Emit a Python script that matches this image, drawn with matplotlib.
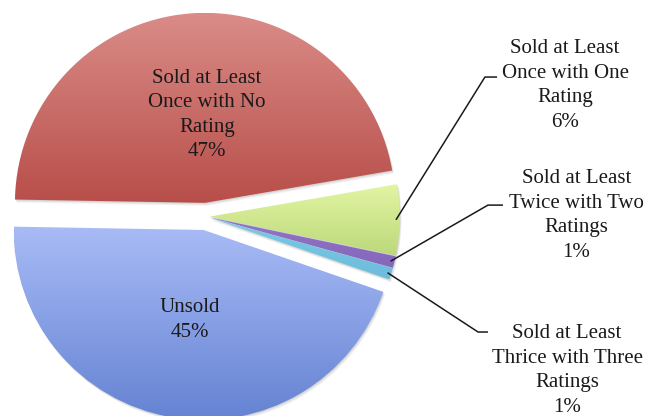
import numpy as np
import matplotlib
matplotlib.use("Agg")
import matplotlib.pyplot as plt
from matplotlib.colors import LinearSegmentedColormap
from matplotlib.patches import Wedge

# Data
labels = [
    "Sold at Least\nOnce with No\nRating",
    "Sold at Least\nOnce with One\nRating",
    "Sold at Least\nTwice with Two\nRatings",
    "Sold at Least\nThrice with Three\nRatings",
    "Unsold",
]
shares = [47, 6, 1, 1, 45]
explode = [0.072, 0.02, 0.02, 0.02, 0.072]

# gradient (top colour, bottom colour) for each slice
grad_top = ["#da8c88", "#e2f5a4", "#9276c6", "#7ccae6", "#a8bbf6"]
grad_bot = ["#b84e49", "#bcd97a", "#8566bb", "#6cbcdc", "#6583d3"]

plt.rcParams["font.family"] = ["Liberation Serif", "DejaVu Serif"]

S = 190.0  # px per data unit
W, H = 648, 416
cx_px, cy_px = 206, 216.5

fig = plt.figure(figsize=(W / 100, H / 100), dpi=100)
ax = fig.add_axes([0, 0, 1, 1])
xlim = (-cx_px / S, (W - cx_px) / S)
ylim = (-(H - cy_px) / S, cy_px / S)

wedges, _ = ax.pie(shares, explode=explode, startangle=179, counterclock=False,
                   radius=1.0, center=(0, 0), wedgeprops=dict(linewidth=0))
ax.set_xlim(*xlim)
ax.set_ylim(*ylim)
ax.set_aspect("auto")
ax.axis("off")

renderer = fig.canvas.get_renderer()
for w, c0, c1 in zip(wedges, grad_top, grad_bot):
    # faint soft shadow
    for k, a in [(3, 0.08), (2, 0.10), (1, 0.12)]:
        sh = Wedge((w.center[0] + k * 0.6 / S, w.center[1] - k * 1.0 / S), w.r,
                   w.theta1, w.theta2, facecolor="#666666", alpha=a, lw=0, zorder=0.5)
        ax.add_patch(sh)
    w.set_facecolor("none")
    w.set_zorder(1)
    bb = w.get_window_extent(renderer).transformed(ax.transData.inverted())
    cmap = LinearSegmentedColormap.from_list("g", [c1, c0])
    grad = np.linspace(0, 1, 256).reshape(-1, 1)
    im = ax.imshow(grad, cmap=cmap, origin="lower", aspect="auto", zorder=1,
                   extent=[bb.x0, bb.x1, bb.y0, bb.y1], interpolation="bilinear")
    im.set_clip_path(w)

ax.set_xlim(*xlim)
ax.set_ylim(*ylim)

pct = [f"{v}%" for v in shares]
fs = 15
ls = 1.40
tc = "#1a1a1a"

# inside labels
ax.text(0.005, 0.534, labels[0] + "\n" + pct[0], ha="center", va="center",
        fontsize=fs, color=tc, linespacing=ls, zorder=3)
ax.text(-0.084, -0.545, labels[4] + "\n" + pct[4], ha="center", va="center",
        fontsize=fs, color=tc, linespacing=ls, zorder=3)

# outside labels with leader lines
lab_pos = [(1.89, 0.69), (1.95, 0.005), (1.90, -0.81)]
elbow = [(1.468, 0.734), (1.484, 0.06), (1.432, -0.608)]
line_end = [(1.532, 0.734), (1.563, 0.06), (1.484, -0.608)]
for i, k in enumerate([1, 2, 3]):
    w = wedges[k]
    mid = np.deg2rad((w.theta1 + w.theta2) / 2)
    px = w.center[0] + 0.98 * np.cos(mid)
    py = w.center[1] + 0.98 * np.sin(mid)
    ax.plot([px, elbow[i][0], line_end[i][0]], [py, elbow[i][1], line_end[i][1]],
            color=tc, lw=1.1, solid_capstyle="butt", zorder=3)
    ax.text(lab_pos[i][0], lab_pos[i][1], labels[k] + "\n" + pct[k], ha="center",
            va="center", fontsize=fs, color=tc, linespacing=ls, zorder=3)

fig.savefig("out.png", dpi=100)
